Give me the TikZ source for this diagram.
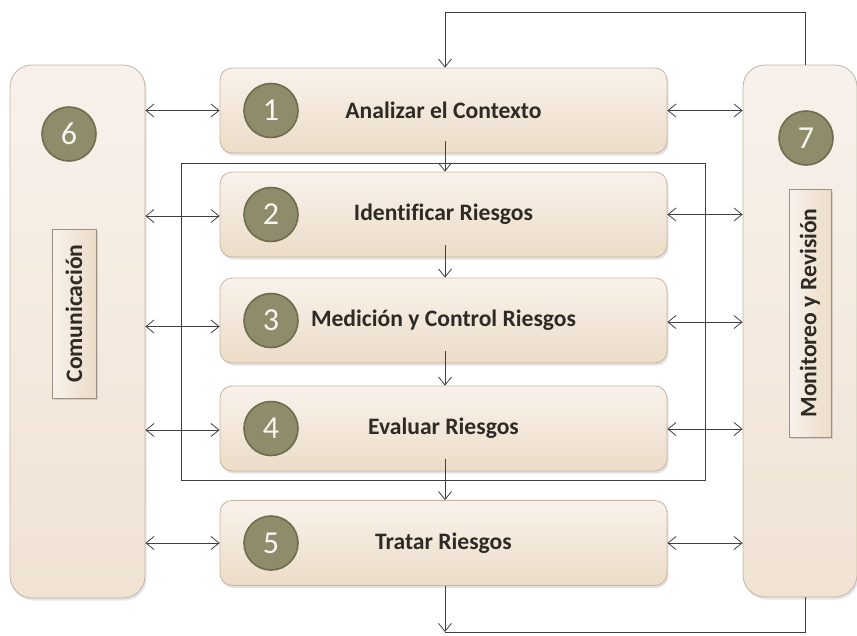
\documentclass[tikz,border=0pt]{standalone}
\usepackage{fontspec}
\setmainfont{Carlito}[Ligatures=NoCommon]
\usetikzlibrary{arrows.meta,shadows}
\definecolor{boxtop}{HTML}{F9F2EB}
\definecolor{boxbot}{HTML}{ECDCC8}
\definecolor{boxline}{HTML}{C4B4A2}
\definecolor{sidetop}{HTML}{F8F1EB}
\definecolor{sidebot}{HTML}{F0E3D4}
\definecolor{olive}{HTML}{8E8C6A}
\definecolor{olivedark}{HTML}{6E6C4C}
\definecolor{txt}{HTML}{2E2A25}
\definecolor{ln}{HTML}{404040}
\tikzset{
  stepbox/.style={rounded corners=12pt, top color=boxtop, bottom color=boxbot, draw=boxline, line width=0.8pt,
    minimum width=447pt, minimum height=85pt, inner sep=0pt,
    font=\fontsize{23.6}{27}\selectfont\bfseries, text=txt,
    drop shadow={opacity=0.22, shadow xshift=1.5pt, shadow yshift=-2.5pt}},
  sidebox/.style={rounded corners=22pt, top color=sidetop, bottom color=sidebot, draw=boxline, line width=0.8pt,
    inner sep=0pt, drop shadow={opacity=0.2, shadow xshift=1.5pt, shadow yshift=-2.5pt}},
  numcirc/.style={circle, fill=olive, draw=olivedark, line width=1.6pt, minimum size=54pt, inner sep=0pt,
    font=\fontsize{32}{34}\selectfont, text=white!92!olive},
  labbox/.style={rotate=90, left color=boxtop, right color=boxbot, draw=boxline!80!black, line width=0.8pt,
    inner sep=0pt, font=\fontsize{23.6}{27}\selectfont\bfseries, text=txt,
    drop shadow={opacity=0.25, shadow xshift=1.5pt, shadow yshift=-2pt}},
  conn/.style={draw=ln, line width=0.8pt},
  >={Straight Barb[length=8pt,width=13pt,line width=0.8pt]}
}
\begin{document}
\begin{tikzpicture}[x=1pt,y=-1pt]
\useasboundingbox (0,0) rectangle (857,635);
% side boxes
\node[sidebox, minimum width=135pt, minimum height=533pt] (L) at (77.5,331.5) {};
\node[sidebox, minimum width=114pt, minimum height=532pt] (R) at (800,331) {};
\node[numcirc] (c6) at (69,134) {6};
\node[numcirc] (c7) at (806,138) {7};
\node[labbox, minimum width=169pt, minimum height=44pt] (lc) at (74,313.5) {Comunicación};
\node[labbox, minimum width=248pt, minimum height=42pt] (lm) at (810,313) {Monitoreo y Revisión};
% frame around steps 2-4
\draw[conn] (181,163) rectangle (705,480);
% step boxes
\node[stepbox] (b1) at (443.5,110.5) {Analizar el Contexto};
\node[stepbox] (b2) at (443.5,214.5) {Identificar Riesgos};
\node[stepbox] (b3) at (443.5,320.5) {Medición y Control Riesgos};
\node[stepbox] (b4) at (443.5,428.5) {Evaluar Riesgos};
\node[stepbox] (b5) at (443.5,543) {Tratar Riesgos};
\foreach \i in {1,...,5}{
  \node[numcirc] (n\i) at ([xshift=-172.5pt]b\i.center) {\i};
}
% horizontal double arrows
\foreach \i/\dl/\dr in {1/0/0,2/-1.5/0,3/-6/-1.5,4/-1.5/-0.5,5/0/0}{
  \draw[conn,<->] ([yshift=\dl pt]b\i.west -| L.east) -- ([yshift=\dl pt]b\i.west);
  \draw[conn,<->] ([yshift=\dr pt]b\i.east) -- ([yshift=\dr pt]b\i.east -| R.west);
}
% vertical flow
\coordinate (vx) at (445,0);
\foreach \i/\j in {1/2,2/3,3/4,4/5}{
  \draw[conn,->] ([yshift=12pt]b\i.south -| vx) -- (b\j.north -| vx);
}
% top feedback loop
\coordinate (tr) at (805,12);
\coordinate (tl) at (445,12);
\draw[conn,->] (R.north -| tr) -- (tr) -- (tl) -- (b1.north -| tl);
% bottom loop
\coordinate (br) at (805,632);
\coordinate (bl) at (445,632);
\draw[conn] (R.south -| br) -- (br) -- (bl);
\draw[conn,->] (b5.south -| bl) -- (bl);
\end{tikzpicture}
\end{document}
